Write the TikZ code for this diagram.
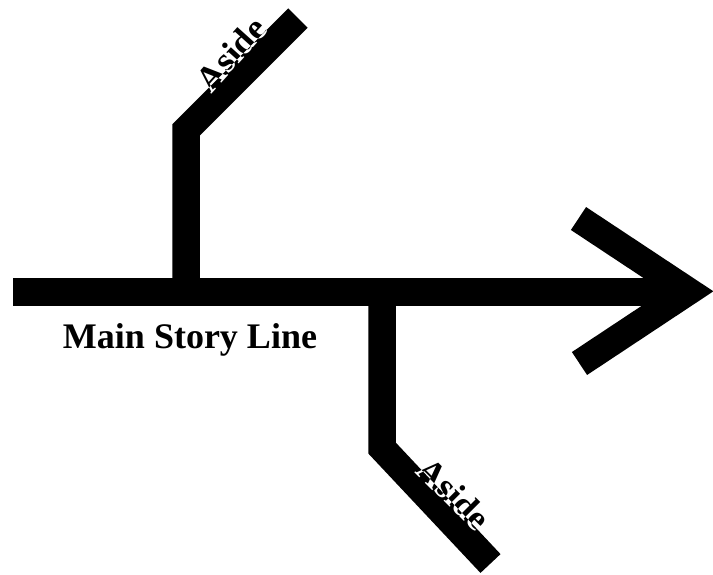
\documentclass[tikz,border=0pt]{standalone}
\usepackage{fontspec}
\setmainfont{Liberation Serif}
\tikzset{
  band/.style={line width=27.5pt, line join=miter, line cap=butt, black},
  lbl/.style={font=\fontsize{36}{40}\selectfont\bfseries, inner sep=0pt}
}
\begin{document}
\begin{tikzpicture}[x=1pt,y=-1pt]
\fill[white] (0,0) rectangle (713,574);
\useasboundingbox (0,0) rectangle (713,574);
% key points
\coordinate (ms) at (13,292);
\coordinate (me) at (689,292);
\coordinate (ub) at (186,292);
\coordinate (ubend) at (186,130);
\coordinate (uend) at (298,18);
\coordinate (lb) at (382,292);
\coordinate (lbend) at (382,448);
\coordinate (lend) at (490.5,563.5);
\coordinate (cu) at (578.5,218.5);
\coordinate (tip) at (688.5,291.3);
\coordinate (cl) at (579.5,363.5);
% bands
\draw[band] (ms) -- (me);
\draw[band] (ub) -- (ubend) -- (uend);
\draw[band] (lb) -- (lbend) -- (lend);
\draw[band] (cu) -- (tip) -- (cl);
% labels
\node[lbl, anchor=base] (main) at (190,348) {Main Story Line};
\begin{scope}[blend mode=difference]
\node[lbl, rotate=48, white] (a1) at (231,54) {Aside};
\node[lbl, rotate=-45, white] (a2) at (454,494) {Aside};
\end{scope}
\end{tikzpicture}
\end{document}
